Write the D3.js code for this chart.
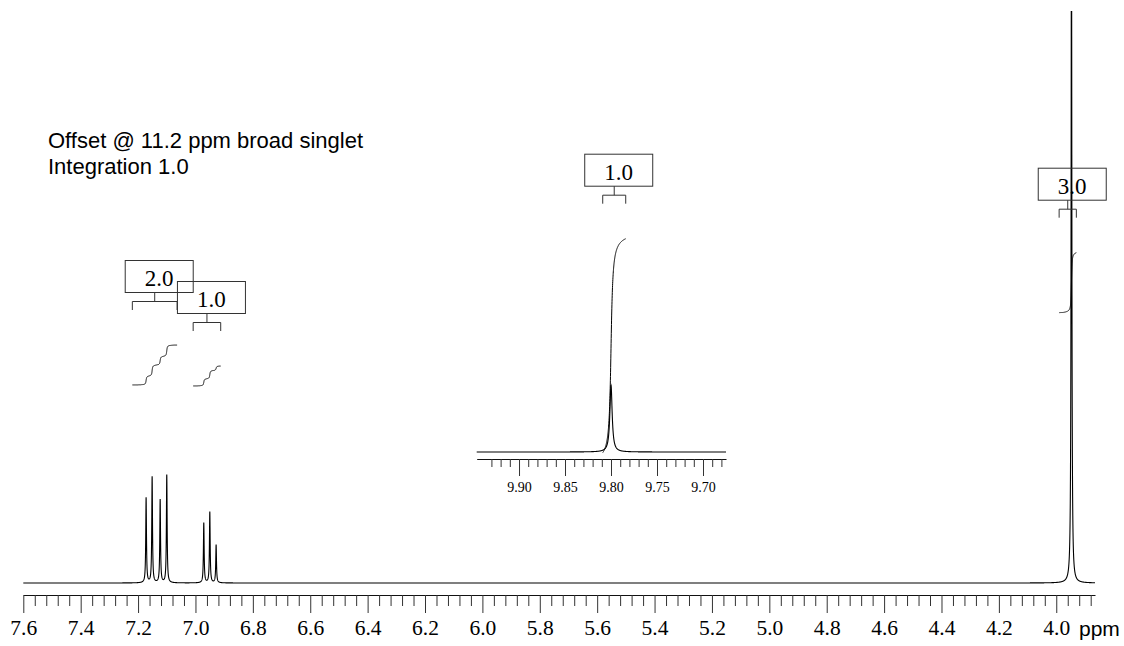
<!DOCTYPE html>
<html>
<head>
<meta charset="utf-8">
<script src="https://cdn.jsdelivr.net/npm/d3@7"></script>
<style>
  html, body { margin: 0; padding: 0; background: #fff; }
  svg { display: block; }
</style>
</head>
<body>
<script>
// ---- 1H NMR peak list (chemical shift in ppm, relative intensity; tallest aromatic line = 100)
const aromaticShifts  = [7.172, 7.151, 7.123, 7.100, 6.971, 6.950, 6.928];
const aromaticHeights = [78.7, 98.1, 76.9, 100, 55.6, 65.7, 35.2];
const methylShifts    = [3.947];
const methylHeights   = [650];
const aldehydeShifts  = [9.800];
const aldehydeHeights = [62];
const halfWidth = 0.0015; // Lorentzian half-width at half-height, ppm

// ---- integration regions
const integralLabels = ["2.0", "1.0", "1.0", "3.0"];
const integralStart  = [7.220, 7.008, 9.809, 3.990];
const integralEnd    = [7.064, 6.912, 9.784, 3.930];
const integralValues = [2.0, 1.0, 1.0, 3.0];

// ---- axis ticks
const mainMajorTicks  = [7.6, 7.4, 7.2, 7.0, 6.8, 6.6, 6.4, 6.2, 6.0, 5.8, 5.6, 5.4, 5.2, 5.0, 4.8, 4.6, 4.4, 4.2, 4.0];
const mainTickLabels  = ["7.6", "7.4", "7.2", "7.0", "6.8", "6.6", "6.4", "6.2", "6.0", "5.8", "5.6", "5.4", "5.2", "5.0", "4.8", "4.6", "4.4", "4.2", "4.0"];
const insetMajorTicks = [9.90, 9.85, 9.80, 9.75, 9.70];
const insetTickLabels = ["9.90", "9.85", "9.80", "9.75", "9.70"];

const noteLines = ["Offset @ 11.2 ppm broad singlet", "Integration 1.0"];

// ---------------------------------------------------------------
const W = 1124, H = 646;
const svg = d3.select("body").append("svg").attr("width", W).attr("height", H);

const serif = "'Liberation Serif', 'Times New Roman', serif";
const sans = "'Liberation Sans', Arial, sans-serif";

// main spectrum scales
const x = d3.scaleLinear().domain([7.6, 3.865]).range([23.3, 1095]);
const y = d3.scaleLinear().domain([0, 100]).range([583, 475]);

// expansion inset scales
const xi = d3.scaleLinear().domain([9.946, 9.675]).range([476.7, 726]);
const yi = d3.scaleLinear().domain([0, 100]).range([452, 344]);

function lorentz(ppm, shifts, heights) {
  let s = 0;
  for (let i = 0; i < shifts.length; i++) {
    const d = ppm - shifts[i];
    s += heights[i] * halfWidth * halfWidth / (d * d + halfWidth * halfWidth);
  }
  return s;
}

function samplePoints(from, to, step, centres) {
  const pts = d3.range(from, to, -step);
  pts.push(to);
  centres.forEach(c => { if (c <= from && c >= to) pts.push(c); });
  return pts.sort((a, b) => b - a);
}

// clip the very tall methyl line at the top of the plot
svg.append("defs").append("clipPath").attr("id", "plotClip")
  .append("rect").attr("x", 0).attr("y", 11).attr("width", W).attr("height", H - 11);

// ---- main trace
const mainShifts = aromaticShifts.concat(methylShifts);
const mainHeights = aromaticHeights.concat(methylHeights);
const mainPts = samplePoints(7.6, 3.865, 0.0002, mainShifts);
const line = d3.line().x(d => x(d[0])).y(d => y(d[1]));
svg.append("path")
  .attr("clip-path", "url(#plotClip)")
  .attr("d", line(mainPts.map(p => [p, lorentz(p, mainShifts, mainHeights)])))
  .attr("fill", "none").attr("stroke", "#000").attr("stroke-width", 1.1);

// ---- inset trace
const insetPts = samplePoints(9.946, 9.675, 0.0001, aldehydeShifts);
const lineI = d3.line().x(d => xi(d[0])).y(d => yi(d[1]));
svg.append("path")
  .attr("d", lineI(insetPts.map(p => [p, lorentz(p, aldehydeShifts, aldehydeHeights)])))
  .attr("fill", "none").attr("stroke", "#000").attr("stroke-width", 1.1);

// ---- axes
function drawAxis(scale, yPos, majors, labels, minorStep, minorFrom, minorTo, fontSize, labelPad) {
  const nMinor = Math.round((minorFrom - minorTo) / minorStep);
  const minors = d3.range(0, nMinor + 1).map(i => +(minorFrom - i * minorStep).toFixed(4))
    .filter(v => !majors.some(m => Math.abs(m - v) < 1e-6));
  const g = svg.append("g").attr("transform", `translate(0,${yPos})`);
  g.append("g")
    .call(d3.axisBottom(scale).tickValues(minors).tickSize(fontSize > 16 ? 11 : 8).tickSizeOuter(0).tickFormat(""))
    .call(a => a.selectAll("line").attr("stroke", "#333"))
    .call(a => a.select(".domain").attr("stroke", "#111"));
  g.append("g")
    .call(d3.axisBottom(scale).tickValues(majors).tickSize(fontSize > 16 ? 18 : 17).tickSizeOuter(0)
      .tickFormat((d, i) => labels[i]).tickPadding(labelPad))
    .call(a => a.select(".domain").remove())
    .call(a => a.selectAll("line").attr("stroke", "#333"))
    .call(a => a.selectAll("text").attr("font-family", serif).attr("font-size", fontSize).attr("fill", "#000"));
  return g;
}

drawAxis(x, 595, mainMajorTicks, mainTickLabels, 0.04, 7.6, 3.88, 21.5, 7);
drawAxis(xi, 459, insetMajorTicks, insetTickLabels, 0.01, 9.93, 9.68, 14, 6);

svg.append("text").attr("x", 1079).attr("y", 636)
  .attr("font-family", sans).attr("font-size", 21).attr("fill", "#000").text("ppm");

// ---- integrals with bracketed labels
const integralLayout = [
  { xs: x,  base: 385,   unit: 20 },
  { xs: x,  base: 386,   unit: 20 },
  { xs: xi, base: 452.7, unit: 214 },
  { xs: x,  base: 312.7, unit: 20 }
];
const peakSets = [
  [aromaticShifts, aromaticHeights],
  [aromaticShifts, aromaticHeights],
  [aldehydeShifts, aldehydeHeights],
  [methylShifts, methylHeights]
];

function cumulative(ppm, a, shifts, heights) {
  let s = 0;
  for (let i = 0; i < shifts.length; i++) {
    s += heights[i] * halfWidth * (Math.atan((a - shifts[i]) / halfWidth) - Math.atan((ppm - shifts[i]) / halfWidth));
  }
  return s;
}

integralLabels.forEach((lab, k) => {
  const L = integralLayout[k];
  const [shifts, heights] = peakSets[k];
  const a = integralStart[k], b = integralEnd[k];
  const total = cumulative(b, a, shifts, heights);
  const yInt = d3.scaleLinear().domain([0, 1]).range([L.base, L.base - L.unit]);
  const pts = samplePoints(a, b, 0.0001, shifts);
  const intLine = d3.line().x(d => L.xs(d[0])).y(d => yInt(d[1]));
  svg.append("path")
    .attr("d", intLine(pts.map(p => [p, cumulative(p, a, shifts, heights) / total * integralValues[k]])))
    .attr("fill", "none").attr("stroke", "#000").attr("stroke-width", 1);

  // bracket spanning the region, with the value in a box above it
  const x1 = L.xs(a), x2 = L.xs(b), cx = (x1 + x2) / 2;
  const top = yInt(integralValues[k]);
  const legBottom = top - 35, legTop = legBottom - 8.5, boxBottom = legTop - 9;
  const g = svg.append("g").attr("fill", "none").attr("stroke", "#333").attr("stroke-width", 1);
  g.append("path").attr("d",
    `M${x1},${legBottom}V${legTop}H${x2}V${legBottom}M${cx},${legTop}V${boxBottom}`);
  g.append("rect").attr("x", cx + 4.5 - 34).attr("y", boxBottom - 32).attr("width", 68).attr("height", 32);
  svg.append("text").attr("x", cx + 4.5).attr("y", boxBottom - 6.5)
    .attr("text-anchor", "middle").attr("font-family", serif).attr("font-size", 23)
    .attr("fill", "#000").text(lab);
});

// ---- note
svg.append("g").selectAll("text").data(noteLines).join("text")
  .attr("x", 48).attr("y", (d, i) => 148.3 + i * 26)
  .attr("font-family", sans).attr("font-size", 22).attr("fill", "#000")
  .text(d => d);
</script>
</body>
</html>
